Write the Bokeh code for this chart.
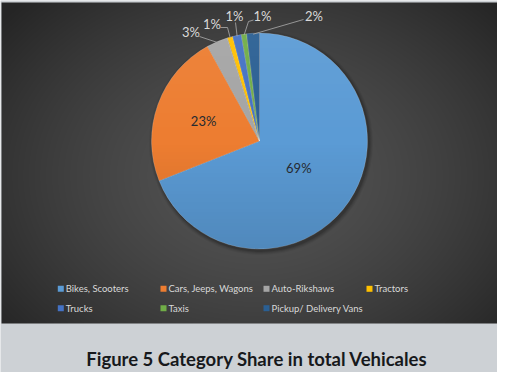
import numpy as np
from bokeh.plotting import figure
from bokeh.models import ColumnDataSource, Range1d
from bokeh.core.properties import value
from bokeh.embed import file_html
from bokeh.resources import INLINE

# ---------------- data ----------------
categories = ["Bikes, Scooters", "Cars, Jeeps, Wagons", "Auto-Rikshaws", "Tractors",
              "Trucks", "Taxis", "Pickup/ Delivery Vans"]
shares = [69.0, 23.0, 3.2, 0.8, 1.3, 0.8, 1.9]
colors = ["#5B9BD5", "#ED7D31", "#A5A5A5", "#FFC000", "#4472C4", "#70AD47", "#2A5F93"]
title_text = "Figure 5 Category Share in total Vehicales"

# ---------------- layout ----------------
W, H = 497, 372
FONT = "Lato"


def X(px):
    return px


def Y(py):
    return H - py


p = figure(width=W, height=H, x_range=Range1d(0, W), y_range=Range1d(0, H),
           output_backend="svg", toolbar_location=None,
           min_border=0, min_border_left=0, min_border_right=0,
           min_border_top=0, min_border_bottom=0)
p.axis.visible = False
p.grid.visible = False
p.outline_line_color = None
p.background_fill_color = "#cdd1d5"
p.border_fill_color = "#cdd1d5"

# dark panel with radial gradient (decoration)
panel_left, panel_top, panel_bot = 1, 2, 323
pw, ph = W - panel_left, panel_bot - panel_top
jj, ii = np.mgrid[0:ph, 0:pw]
page_x = ii + panel_left + 0.5
page_y = panel_bot - jj - 0.5
d = np.sqrt(((page_x - 256) / 330.0) ** 2 + ((page_y - 175) / 250.0) ** 2)
d = np.clip(d, 0, 1)
g = (84 - 47 * d ** 1.5).astype(np.uint8)
img = np.empty((ph, pw), dtype=np.uint32)
view = img.view(dtype=np.uint8).reshape((ph, pw, 4))
view[:, :, 0] = g
view[:, :, 1] = g
view[:, :, 2] = g
view[:, :, 3] = 255
p.image_rgba(image=[img], x=panel_left, y=Y(panel_bot), dw=pw, dh=ph)

# pie geometry
cx, cy, r = X(259), Y(140.5), 108.0
total = float(sum(shares))
cum = np.concatenate([[0.0], np.cumsum(shares)])
start = np.pi / 2 - 2 * np.pi * cum[:-1] / total
end = np.pi / 2 - 2 * np.pi * cum[1:] / total
mid = (start + end) / 2

# soft shadow
for k, a in [(4, 0.05), (3, 0.07), (2, 0.09), (1, 0.12)]:
    p.circle(x=[cx + 1.5], y=[cy - 2], radius=r + k, fill_color="black",
             fill_alpha=a, line_color=None)

src = ColumnDataSource(dict(start=start, end=end, color=colors, cat=categories))
p.wedge(x=cx, y=cy, radius=r, start_angle="start", end_angle="end", direction="clock",
        fill_color="color", line_color="#ffffff", line_alpha=0.3, line_width=0.6, source=src)

# subtle vertical shading over the pie (decoration)
n = int(2 * r + 2)
yy, xx = np.mgrid[0:n, 0:n]
dx = xx + 0.5 - n / 2
dy = yy + 0.5 - n / 2
dist = np.sqrt(dx ** 2 + dy ** 2)
mask = np.clip(r - dist + 0.5, 0, 1)
t = (yy + 0.5) / n  # 0 bottom -> 1 top
shade = np.empty((n, n), dtype=np.uint32)
sv = shade.view(dtype=np.uint8).reshape((n, n, 4))
top_part = t > 0.5
sv[:, :, 0] = np.where(top_part, 255, 0)
sv[:, :, 1] = np.where(top_part, 255, 0)
sv[:, :, 2] = np.where(top_part, 255, 0)
alpha = np.where(top_part, (t - 0.5) * 2 * 0.06, (0.5 - t) * 2 * 0.12)
sv[:, :, 3] = (alpha * mask * 255).astype(np.uint8)
p.image_rgba(image=[shade], x=cx - n / 2, y=cy - n / 2, dw=n, dh=n)

labels = [f"{round(v)}%" for v in shares]

# inside labels
inner = {0: 0.44, 1: 0.55}
ix = [cx + inner[i] * r * np.cos(mid[i]) for i in inner]
iy = [cy + inner[i] * r * np.sin(mid[i]) for i in inner]
p.text(x=ix, y=iy, text=[labels[i] for i in inner], text_align="center",
       text_baseline="middle", text_font=value(FONT), text_font_size="13px",
       text_color="#262a30")

# outside labels (page positions of text and leader starts)
outer_idx = [2, 3, 4, 5, 6]
outer_text_pos = [(190.5, 31), (211.5, 23), (234, 15.5), (262, 15.5), (313.5, 15.5)]
outer_leader = [[(199, 36)], [(220, 27), (227, 27)], [(235, 22)],
                [(253, 19.5), (248, 21)], [(303, 19)]]
xs, ys = [], []
for k, i in enumerate(outer_idx):
    pts = outer_leader[k]
    lx = [X(a) for a, b in pts] + [cx + (r - 1) * np.cos(mid[i])]
    ly = [Y(b) for a, b in pts] + [cy + (r - 1) * np.sin(mid[i])]
    xs.append(lx)
    ys.append(ly)
p.multi_line(xs=xs, ys=ys, line_color="#a6a6a6", line_width=1, line_alpha=0.85)
p.text(x=[X(a) for a, b in outer_text_pos], y=[Y(b) for a, b in outer_text_pos],
       text=[labels[i] for i in outer_idx], text_align="center", text_baseline="middle",
       text_font=value(FONT), text_font_size="13px", text_color="#d9d9d9")

# legend
col_x = [57.3, 160, 263, 366]
row_y = [288.3, 307.7]
lgx, lgy, ltx = [], [], []
for i in range(len(categories)):
    cxp = col_x[i % 4]
    ryp = row_y[i // 4]
    lgx.append(X(cxp + 3))
    lgy.append(Y(ryp))
    ltx.append(X(cxp + 8))
p.rect(x=lgx, y=lgy, width=6, height=6, fill_color=colors, line_color=None)
p.text(x=ltx, y=lgy, text=categories, text_align="left", text_baseline="middle",
       text_font=value(FONT), text_font_size="9.5px", text_color="#d9d9d9")

# title below the chart
p.text(x=[X(256.5)], y=[Y(358)], text=[title_text], text_align="center",
       text_baseline="middle", text_font=value(FONT), text_font_size="18.5px",
       text_font_style="bold", text_color="#17191c")

open("out.html", "w").write(file_html(p, INLINE))
